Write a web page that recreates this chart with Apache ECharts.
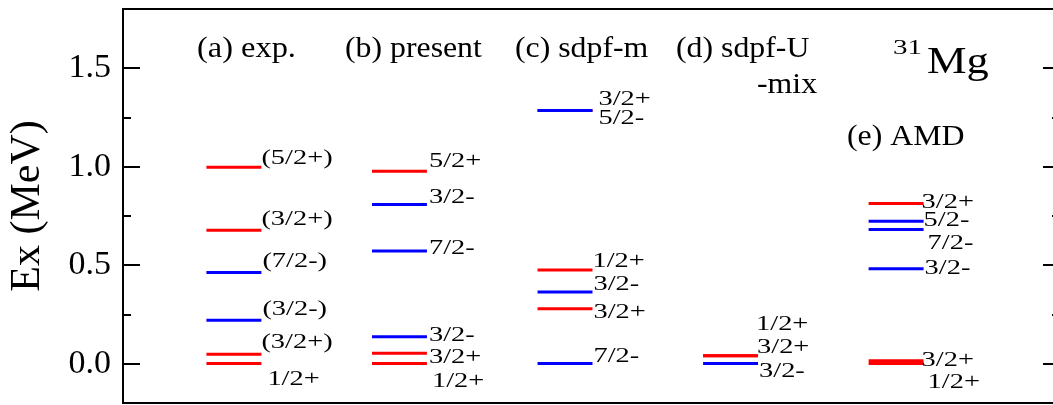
<!DOCTYPE html>
<html>
<head>
<meta charset="utf-8">
<script src="https://cdn.jsdelivr.net/npm/echarts@6/dist/echarts.min.js"></script>
<style>
html,body{margin:0;padding:0;overflow:hidden;background:#fff;}
#chart{width:1070px;height:405px;}
</style>
</head>
<body>
<div id="chart"></div>
<script>
// ---------- data (MeV) ----------
const columnTitles = ['(a) exp.', '(b) present', '(c) sdpf-m', '(d) sdpf-U', '(e) AMD'];

const expEnergy = [0.0, 0.048, 0.220, 0.462, 0.677, 0.997];
const expSpin   = ['1/2+', '(3/2+)', '(3/2-)', '(7/2-)', '(3/2+)', '(5/2+)'];

const presentEnergy = [0.0, 0.052, 0.136, 0.571, 0.808, 0.976];
const presentSpin   = ['1/2+', '3/2+', '3/2-', '7/2-', '3/2-', '5/2+'];

const sdpfmEnergy = [0.0, 0.279, 0.364, 0.475, 1.285, 1.285];
const sdpfmSpin   = ['7/2-', '3/2+', '3/2-', '1/2+', '3/2+', '5/2-'];

const sdpfuEnergy = [0.0, 0.040, 0.040];
const sdpfuSpin   = ['3/2-', '3/2+', '1/2+'];

const amdEnergy = [0.0, 0.015, 0.482, 0.681, 0.723, 0.813];
const amdSpin   = ['1/2+', '3/2+', '3/2-', '7/2-', '5/2-', '3/2+'];

const majorTicks = [0.0, 0.5, 1.0, 1.5];
const minorTicks = [0.25, 0.75, 1.25];

// ---------- layout (pixels) : label nudges, not data ----------
const labelDx = [
  [6, 0, 1, 1, 0, 0],
  [5, 2, 2, 2, 2, 2],
  [1, 1, 1, 0, 6, 6],
  [1, -1, -2],
  [4, -2, 1, 4, 0, -2]
];
const labelDy = [
  [16, -11, -11, -11, -10, -8],
  [18, 4, -1, -2, -7, -10],
  [-7, 4, -7, -8, -11, 8],
  [8, -8, -31],
  [19, 0, 0, 14, 0, -1]
];

const columns = [
  [expEnergy, expSpin],
  [presentEnergy, presentSpin],
  [sdpfmEnergy, sdpfmSpin],
  [sdpfuEnergy, sdpfuSpin],
  [amdEnergy, amdSpin]
];

const FONT = "'Liberation Serif','Times New Roman',Times,serif";
const RED = '#ff0000', BLUE = '#0000ff';
const X_MIN = -0.67, X_MAX = 4.99, HALF_W = 0.166;
const CHART_W = 1070, GRID_L = 123, GRID_R = 10;
const GRID_W = CHART_W - GRID_L - GRID_R;

function parityColor(spin) {
  return spin.indexOf('+') >= 0 ? RED : BLUE;
}

const series = columns.map(function (col, ci) {
  const energies = col[0];
  return {
    type: 'custom',
    silent: true,
    clip: false,
    data: energies.map(function (e, k) { return [ci, e, k]; }),
    renderItem: function (params, api) {
      const c = api.value(0), e = api.value(1), k = api.value(2);
      const p = api.coord([c, e]);
      const hw = api.size([HALF_W, 0])[0];
      const spin = columns[c][1][k];
      return {
        type: 'group',
        children: [
          {
            type: 'line',
            shape: { x1: p[0] - hw, y1: p[1], x2: p[0] + hw, y2: p[1] },
            style: { stroke: parityColor(spin), lineWidth: 3 }
          },
          {
            type: 'text',
            x: p[0] + hw + labelDx[c][k],
            y: p[1] + labelDy[c][k],
            scaleX: 1.42,
            style: {
              text: spin, x: 0, y: 0, fill: '#000',
              fontSize: 20, fontFamily: FONT,
              align: 'left', verticalAlign: 'middle'
            }
          }
        ]
      };
    }
  };
});

function yAxisDef(pos, ticks, len, showTick, showLabel, off, inside) {
  return {
    type: 'value', min: -0.2, max: 1.8, position: pos, offset: off || 0,
    axisLine: { show: false, onZero: false },
    splitLine: { show: false },
    axisTick: { show: showTick, inside: inside !== false, length: len, customValues: ticks,
                lineStyle: { color: '#000', width: 2 } },
    axisLabel: { show: showLabel, customValues: ticks,
                 formatter: function (v) { return v.toFixed(1); },
                 fontSize: 34, fontFamily: FONT, color: '#000', margin: 12 }
  };
}

const yLabels = yAxisDef('left', majorTicks, 17, false, true);
yLabels.name = 'Ex (MeV)';
yLabels.nameLocation = 'middle';
yLabels.nameRotate = 90;
yLabels.nameGap = 74;
yLabels.nameTextStyle = { fontSize: 42, fontFamily: FONT, color: '#000' };

function titleText(str, x, y, size, sx) {
  return {
    type: 'text', x: x, y: y, scaleX: sx, silent: true,
    style: { text: str, fill: '#000', fontSize: size, fontFamily: FONT,
             align: 'left', verticalAlign: 'middle' }
  };
}

const option = {
  animation: false,
  grid: { left: GRID_L, top: 9, right: GRID_R, bottom: 2, show: true,
          outerBoundsMode: 'none',
          borderColor: '#000', borderWidth: 2, backgroundColor: 'transparent' },
  xAxis: { type: 'value', min: X_MIN, max: X_MAX, show: false,
           axisLine: { onZero: false } },
  yAxis: [
    yLabels,
    // major ticks on the left frame edge (right-type axis moved onto the left edge, ticks pointing inward)
    yAxisDef('right', majorTicks, 17, true, false, -GRID_W, false),
    yAxisDef('left', minorTicks, 8, true, false),
    yAxisDef('right', majorTicks, 17, true, false),
    yAxisDef('right', minorTicks, 8, true, false)
  ],
  series: series,
  graphic: [
    titleText(columnTitles[0], 197, 49, 30, 1.08),
    titleText(columnTitles[1], 345, 49, 30, 1.06),
    titleText(columnTitles[2], 515, 49, 30, 1.06),
    titleText(columnTitles[3], 676, 49, 30, 1.06),
    titleText('-mix', 757, 85, 30, 1.06),
    titleText(columnTitles[4], 847, 137, 30, 1.06),
    titleText('31', 893, 49, 20, 1.45),
    titleText('Mg', 927, 63, 38, 1.17)
  ]
};

const chart = echarts.init(document.getElementById('chart'), null, { renderer: 'canvas' });
chart.setOption(option);
</script>
</body>
</html>
